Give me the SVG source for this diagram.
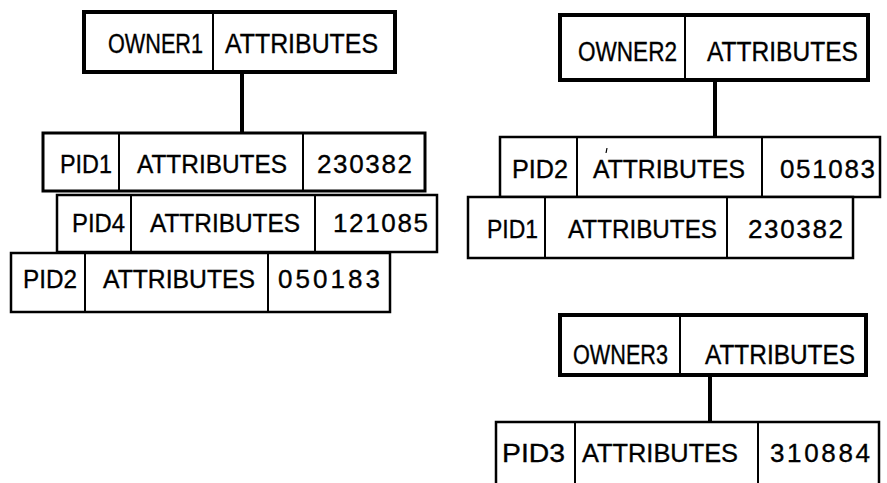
<svg xmlns="http://www.w3.org/2000/svg" width="887" height="483" viewBox="0 0 887 483">
  <style>
    .owner { fill: #fff; stroke: #000; stroke-width: 4; }
    .rec { fill: #fff; stroke: #000; stroke-width: 2.5; }
    .div { stroke: #000; stroke-width: 2; }
    .link { stroke: #000; stroke-width: 4; fill: none; }
    text { font-family: "Liberation Sans", Arial, sans-serif; font-size: 26px; fill: #000; stroke: #000; stroke-width: 0.35; }
    .big { font-size: 27px; }
  </style>

  <!-- connectors: owner record to first member record -->
  <g id="connectors">
    <line class="link" x1="242" y1="72" x2="242" y2="134"/>
    <line class="link" x1="715" y1="80" x2="715" y2="138"/>
    <line class="link" x1="710" y1="375" x2="710" y2="423"/>
  </g>

  <!-- owner 1 set -->
  <g id="owner1">
    <rect class="owner" x="84" y="12" width="311" height="60"/>
    <line class="div" x1="213" y1="12" x2="213" y2="72"/>
    <text class="big" x="108" y="53" textLength="95" lengthAdjust="spacingAndGlyphs">OWNER1</text>
    <text class="big" x="225" y="53" textLength="153" lengthAdjust="spacingAndGlyphs">ATTRIBUTES</text>
  </g>
  <g id="o1-pid1">
    <rect class="rec" x="43" y="133" width="382" height="58" style="stroke-width:3"/>
    <line class="div" x1="119" y1="133" x2="119" y2="191"/>
    <line class="div" x1="303" y1="133" x2="303" y2="191"/>
    <text x="60" y="173" textLength="52" lengthAdjust="spacingAndGlyphs">PID1</text>
    <text x="137" y="173" textLength="150" lengthAdjust="spacingAndGlyphs">ATTRIBUTES</text>
    <text x="317" y="173" textLength="95" lengthAdjust="spacing">230382</text>
  </g>
  <g id="o1-pid4">
    <rect class="rec" x="57" y="195" width="380" height="57"/>
    <line class="div" x1="131" y1="195" x2="131" y2="252"/>
    <line class="div" x1="315" y1="195" x2="315" y2="252"/>
    <text x="72" y="232" textLength="53" lengthAdjust="spacingAndGlyphs">PID4</text>
    <text x="150" y="232" textLength="150" lengthAdjust="spacingAndGlyphs">ATTRIBUTES</text>
    <text x="333" y="232" textLength="95" lengthAdjust="spacing">121085</text>
  </g>
  <g id="o1-pid2">
    <rect class="rec" x="11" y="253" width="379" height="59"/>
    <line class="div" x1="85" y1="253" x2="85" y2="312"/>
    <line class="div" x1="268" y1="253" x2="268" y2="312"/>
    <text x="23" y="288" textLength="54" lengthAdjust="spacingAndGlyphs">PID2</text>
    <text x="103" y="288" textLength="152" lengthAdjust="spacingAndGlyphs">ATTRIBUTES</text>
    <text x="278" y="288" textLength="102" lengthAdjust="spacing">050183</text>
  </g>

  <!-- owner 2 set -->
  <g id="owner2">
    <rect class="owner" x="560" y="15" width="308" height="65"/>
    <line class="div" x1="685" y1="15" x2="685" y2="80"/>
    <text class="big" x="578" y="61" textLength="99" lengthAdjust="spacingAndGlyphs">OWNER2</text>
    <text class="big" x="707" y="61" textLength="151" lengthAdjust="spacingAndGlyphs">ATTRIBUTES</text>
  </g>
  <g id="o2-pid2">
    <rect class="rec" x="500" y="137" width="380" height="60"/>
    <line class="div" x1="577" y1="137" x2="577" y2="197"/>
    <line class="div" x1="762" y1="137" x2="762" y2="197"/>
    <text x="512" y="178" textLength="56" lengthAdjust="spacingAndGlyphs">PID2</text>
    <text x="593" y="178" textLength="152" lengthAdjust="spacingAndGlyphs">ATTRIBUTES</text>
    <text x="780" y="178" textLength="95" lengthAdjust="spacing">051083</text>
    <line x1="607" y1="148" x2="606" y2="153" stroke="#000" stroke-width="1.2"/>
  </g>
  <g id="o2-pid1">
    <rect class="rec" x="468" y="197" width="385" height="61"/>
    <line class="div" x1="545" y1="197" x2="545" y2="258"/>
    <line class="div" x1="727" y1="197" x2="727" y2="258"/>
    <text x="487" y="238" textLength="51" lengthAdjust="spacingAndGlyphs">PID1</text>
    <text x="568" y="238" textLength="149" lengthAdjust="spacingAndGlyphs">ATTRIBUTES</text>
    <text x="748" y="238" textLength="95" lengthAdjust="spacing">230382</text>
  </g>

  <!-- owner 3 set -->
  <g id="owner3">
    <rect class="owner" x="560" y="315" width="306" height="60"/>
    <line class="div" x1="680" y1="315" x2="680" y2="375"/>
    <text class="big" x="573" y="364" textLength="95" lengthAdjust="spacingAndGlyphs">OWNER3</text>
    <text class="big" x="705" y="364" textLength="150" lengthAdjust="spacingAndGlyphs">ATTRIBUTES</text>
  </g>
  <g id="o3-pid3">
    <rect class="rec" x="496" y="422" width="383" height="66"/>
    <line class="div" x1="575" y1="422" x2="575" y2="488"/>
    <line class="div" x1="758" y1="422" x2="758" y2="488"/>
    <text x="502" y="462" textLength="63" lengthAdjust="spacingAndGlyphs">PID3</text>
    <text x="582" y="462" textLength="156" lengthAdjust="spacingAndGlyphs">ATTRIBUTES</text>
    <text x="770" y="462" textLength="100" lengthAdjust="spacing">310884</text>
  </g>
</svg>
